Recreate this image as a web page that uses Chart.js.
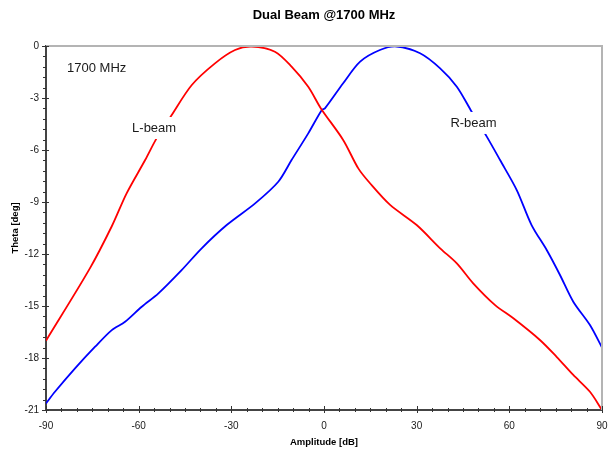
<!DOCTYPE html>
<html>
<head>
<meta charset="utf-8">
<script src="https://cdn.jsdelivr.net/npm/chart.js@4.4.1/dist/chart.umd.min.js"></script>
<style>
  html, body { margin: 0; padding: 0; background: #fff; }
  #wrap { width: 608px; height: 454px; }
</style>
</head>
<body>
<div id="wrap"><canvas id="beamChart" width="608" height="454"></canvas></div>
<script>
// L-beam (red)
const lBeamAmp = [-90, -75.8, -68.7, -63.9, -57.9, -54.2, -49.3, -42.8, -35.3, -28.8, -23.4, -15.9, -10.5, -5.1, -1.0, 6.2, 11.1, 14.9, 21.4, 30.0, 37.6, 43.0, 48.3, 55.4, 61.3, 69.9, 75.3, 80.7, 86.1, 90];
const lBeamTheta = [-17.0, -12.83, -10.4, -8.5, -6.58, -5.33, -3.98, -2.25, -1.0, -0.23, -0.03, -0.33, -1.19, -2.35, -3.6, -5.42, -7.06, -7.92, -9.17, -10.33, -11.67, -12.54, -13.69, -14.95, -15.71, -16.96, -17.93, -18.98, -19.95, -21.0];

// R-beam (blue)
const rBeamAmp = [-90, -87.1, -80.6, -74.1, -68.7, -64.4, -59.0, -53.6, -46.1, -39.6, -31.5, -22.3, -14.8, -10.5, -5.1, -0.7, 0.3, 6.2, 11.7, 18.1, 23.5, 31.1, 37.6, 43.0, 47.8, 52.7, 57.0, 62.4, 67.2, 72.1, 76.4, 80.7, 86.1, 90];
const rBeamTheta = [-20.62, -19.95, -18.6, -17.35, -16.39, -15.91, -15.04, -14.27, -12.93, -11.67, -10.33, -9.08, -7.83, -6.58, -5.04, -3.69, -3.6, -2.15, -0.9, -0.23, -0.03, -0.42, -1.29, -2.35, -3.79, -5.23, -6.58, -8.31, -10.33, -11.77, -13.21, -14.75, -16.1, -17.4];

// text labels inside the plot (data coords)
const noteLabels = [
  { text: "1700 MHz", x: -73.6, y: -1.27, box: false },
  { text: "L-beam", x: -55.0, y: -4.73, box: true },
  { text: "R-beam", x: 48.4, y: -4.44, box: true },
];

const FONT = "'Liberation Sans', Arial, sans-serif";

function toPoints(xs, ys) {
  return xs.map((x, i) => ({ x, y: ys[i] }));
}

function fixSize(w, h) {
  return (scale) => {
    if (w != null) scale.width = w;
    if (h != null) scale.height = h;
    scale.paddingLeft = 0;
    scale.paddingRight = 0;
    scale.paddingTop = 0;
    scale.paddingBottom = 0;
  };
}

// frame, ticks, title, annotations
const decor = {
  id: "decor",
  afterDatasetsDraw(chart) {
    const { ctx, chartArea: a, scales: { x, y } } = chart;
    ctx.save();
    ctx.font = "13px " + FONT;
    ctx.textAlign = "center";
    ctx.textBaseline = "middle";
    noteLabels.forEach(n => {
      const px = x.getPixelForValue(n.x);
      const py = y.getPixelForValue(n.y);
      if (n.box) {
        const w = ctx.measureText(n.text).width + 4;
        ctx.fillStyle = "#fff";
        ctx.fillRect(px - w / 2, py - 11, w, 22);
      }
      ctx.fillStyle = "#1a1a1a";
      ctx.fillText(n.text, px, py);
    });

    // top / right frame
    ctx.strokeStyle = "#b4b4b4";
    ctx.lineWidth = 2;
    ctx.beginPath();
    ctx.moveTo(a.left, a.top);
    ctx.lineTo(a.right, a.top);
    ctx.lineTo(a.right, a.bottom);
    ctx.stroke();
    ctx.restore();
  },
  afterDraw(chart) {
    const { ctx, chartArea: a, scales: { x, y } } = chart;
    ctx.save();
    ctx.strokeStyle = "#333";
    ctx.lineWidth = 1;
    ctx.beginPath();
    // x ticks
    for (let v = -90; v <= 90; v += 5) {
      const px = Math.round(x.getPixelForValue(v)) + 0.5;
      const major = v % 30 === 0;
      ctx.moveTo(px, a.bottom - (major ? 4 : 2));
      ctx.lineTo(px, a.bottom + (major ? 3 : 2));
    }
    // y ticks
    for (let i = 0; i <= 35; i++) {
      const v = -i * 0.6;
      const py = Math.round(y.getPixelForValue(v)) + 0.5;
      const major = i % 5 === 0;
      ctx.moveTo(a.left - (major ? 4 : 3), py);
      ctx.lineTo(a.left + (major ? 3 : 0), py);
    }
    ctx.stroke();

    ctx.fillStyle = "#000";
    ctx.font = "bold 13px " + FONT;
    ctx.textAlign = "center";
    ctx.textBaseline = "middle";
    ctx.fillText("Dual Beam @1700 MHz", (a.left + a.right) / 2, 15);
    ctx.restore();
  },
};

new Chart(document.getElementById("beamChart"), {
  type: "line",
  data: {
    datasets: [
      {
        label: "L-beam",
        data: toPoints(lBeamAmp, lBeamTheta),
        borderColor: "#ff0000",
        borderWidth: 1.8,
        pointRadius: 0,
        tension: 0.3,
      },
      {
        label: "R-beam",
        data: toPoints(rBeamAmp, rBeamTheta),
        borderColor: "#0000ff",
        borderWidth: 1.8,
        pointRadius: 0,
        tension: 0.3,
      },
    ],
  },
  options: {
    responsive: false,
    animation: false,
    layout: { padding: { left: 0, top: 46, right: 6, bottom: 0 } },
    plugins: {
      legend: { display: false },
      tooltip: { enabled: false },
      title: { display: false },
    },
    scales: {
      x: {
        type: "linear",
        min: -90,
        max: 90,
        afterFit: fixSize(null, 44),
        grid: { display: false, drawTicks: false },
        border: { display: true, color: "#444", width: 2 },
        ticks: { stepSize: 30, padding: 10, color: "#1a1a1a", font: { family: FONT, size: 10 } },
        title: { display: true, text: "Amplitude [dB]", color: "#000", padding: { bottom: 6 }, font: { family: FONT, size: 9.5, weight: "bold" } },
      },
      y: {
        type: "linear",
        min: -21,
        max: 0,
        afterFit: fixSize(46, null),
        grid: { display: false, drawTicks: false },
        border: { display: true, color: "#444", width: 2 },
        ticks: { stepSize: 3, padding: 7, color: "#1a1a1a", font: { family: FONT, size: 10 } },
        title: { display: true, text: "Theta [deg]", color: "#000", padding: { top: 10 }, font: { family: FONT, size: 9.5, weight: "bold" } },
      },
    },
  },
  plugins: [decor],
});
</script>
</body>
</html>
